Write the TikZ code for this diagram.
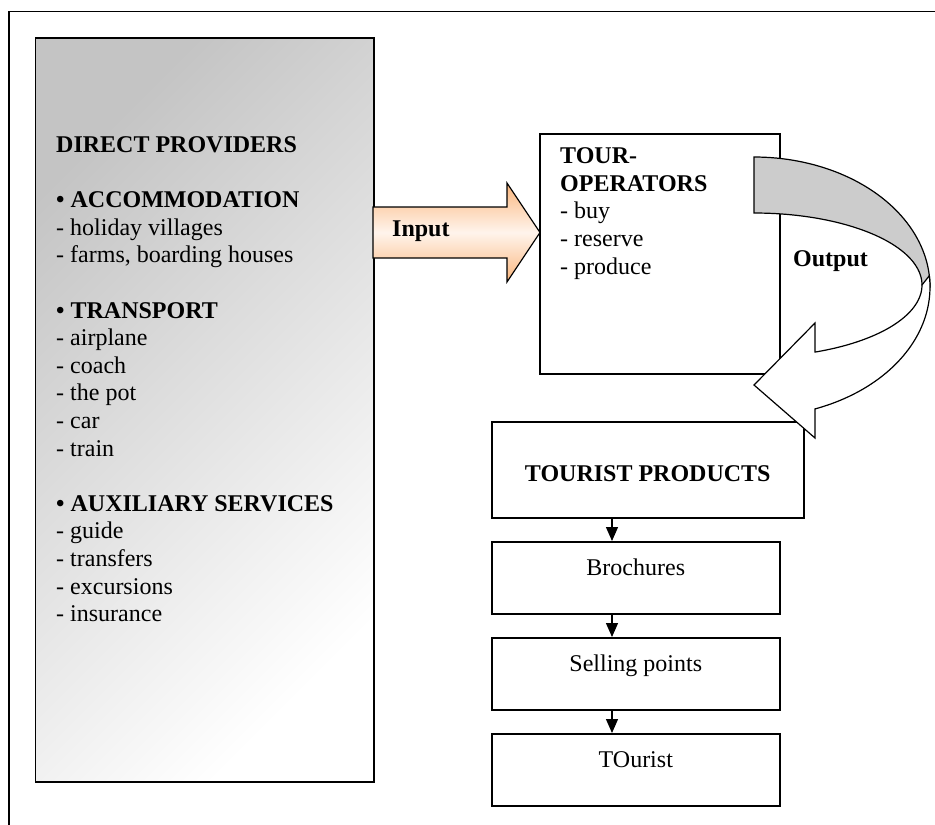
\documentclass[tikz,border=0pt]{standalone}
\usepackage{fontspec}
\setmainfont{Liberation Serif}
\usetikzlibrary{arrows.meta,calc}
\definecolor{dpdark}{RGB}{196,196,196}
\definecolor{dplight}{RGB}{255,255,255}
\definecolor{inedge}{RGB}{250,182,125}
\definecolor{inmid}{RGB}{255,244,236}
\definecolor{outgray}{RGB}{204,204,204}
\begin{document}
\begin{tikzpicture}[x=1pt,y=-1pt,
  every node/.style={font=\fontsize{24}{27.6}\selectfont},
  box/.style={draw, line width=1.6pt, inner sep=0pt},
  smallbox/.style={box, anchor=north west, minimum width=288pt, text height=34pt, text depth=38pt},
  flow/.style={line width=1.3pt, -{Triangle[length=14pt,width=12pt]}},
  bigarrow/.style={draw, line width=1.2pt, line join=miter},
  txt/.style={anchor=base west, align=left, inner sep=0pt}]
\useasboundingbox (0,0) rectangle (935,825);
% outer frame
\draw[line width=1.3pt] (935,11.5) -- (9,11.5) -- (9,825);
% direct providers
\node[box, anchor=north west, minimum width=338.5pt, minimum height=744pt,
      shading=axis, top color=dpdark, bottom color=dplight, shading angle=45] (dp) at (34.5,37) {};
% base anchor of a multi-line node = baseline of its last line
\node[txt] (dptext) at (56,621.6) {\textbf{DIRECT PROVIDERS}\\[27.6pt]
\textbf{• ACCOMMODATION}\\
- holiday villages\\
- farms, boarding houses\\[27.6pt]
\textbf{• TRANSPORT}\\
- airplane\\
- coach\\
- the pot\\
- car\\
- train\\[27.6pt]
\textbf{• AUXILIARY SERVICES}\\
- guide\\
- transfers\\
- excursions\\
- insurance};
% input arrow
\path[bigarrow, top color=inedge, bottom color=inedge, middle color=inmid]
  (373,207) -- (507,207) -- (507,183) -- (540,232.5) -- (507,282) -- (507,258) -- (373,258) -- cycle;
\node[txt] (inlbl) at (392,236) {\textbf{Input}};
% tour operators
\node[box, anchor=north west, minimum width=240pt, minimum height=240pt] (to) at (539,133) {};
\node[txt] (totext) at (560,274) {\textbf{TOUR-}\\\textbf{OPERATORS}\\- buy\\- reserve\\- produce};
% products chain
\node[box, anchor=north west, minimum width=312pt, text height=60pt, text depth=36pt] (tp) at (491,421) {\textbf{TOURIST PRODUCTS}};
\node[smallbox] (bro) at (491,541) {Brochures};
\node[smallbox] (sell) at (491,637) {Selling points};
\node[smallbox] (tour) at (491,733) {TOurist};
\coordinate (ax) at (612,0);
\draw[flow] (tp.south -| ax) -- (bro.north -| ax);
\draw[flow] (bro.south -| ax) -- (sell.north -| ax);
\draw[flow] (sell.south -| ax) -- (tour.north -| ax);
% output curved arrow (back face)
\path[bigarrow, fill=outgray]
  plot[domain=90:0, samples=50] ({754+176*cos(\x)},{287-130*sin(\x)})
  -- plot[domain=0:90, samples=50] ({754+168*cos(\x)},{285-72*sin(\x)}) -- cycle;
% output curved arrow (front face)
\path[bigarrow, fill=white]
  plot[domain=5:-69.72, samples=50] ({754+176*cos(\x)},{287-130*sin(\x)})
  -- (815,438) -- (754,385) -- (815,323) -- (815,352)
  -- plot[domain=-68.7:0, samples=40] ({754+168*cos(\x)},{285-72*sin(\x)}) -- cycle;
\node[txt] (outlbl) at (793,266) {\textbf{Output}};
\end{tikzpicture}
\end{document}
